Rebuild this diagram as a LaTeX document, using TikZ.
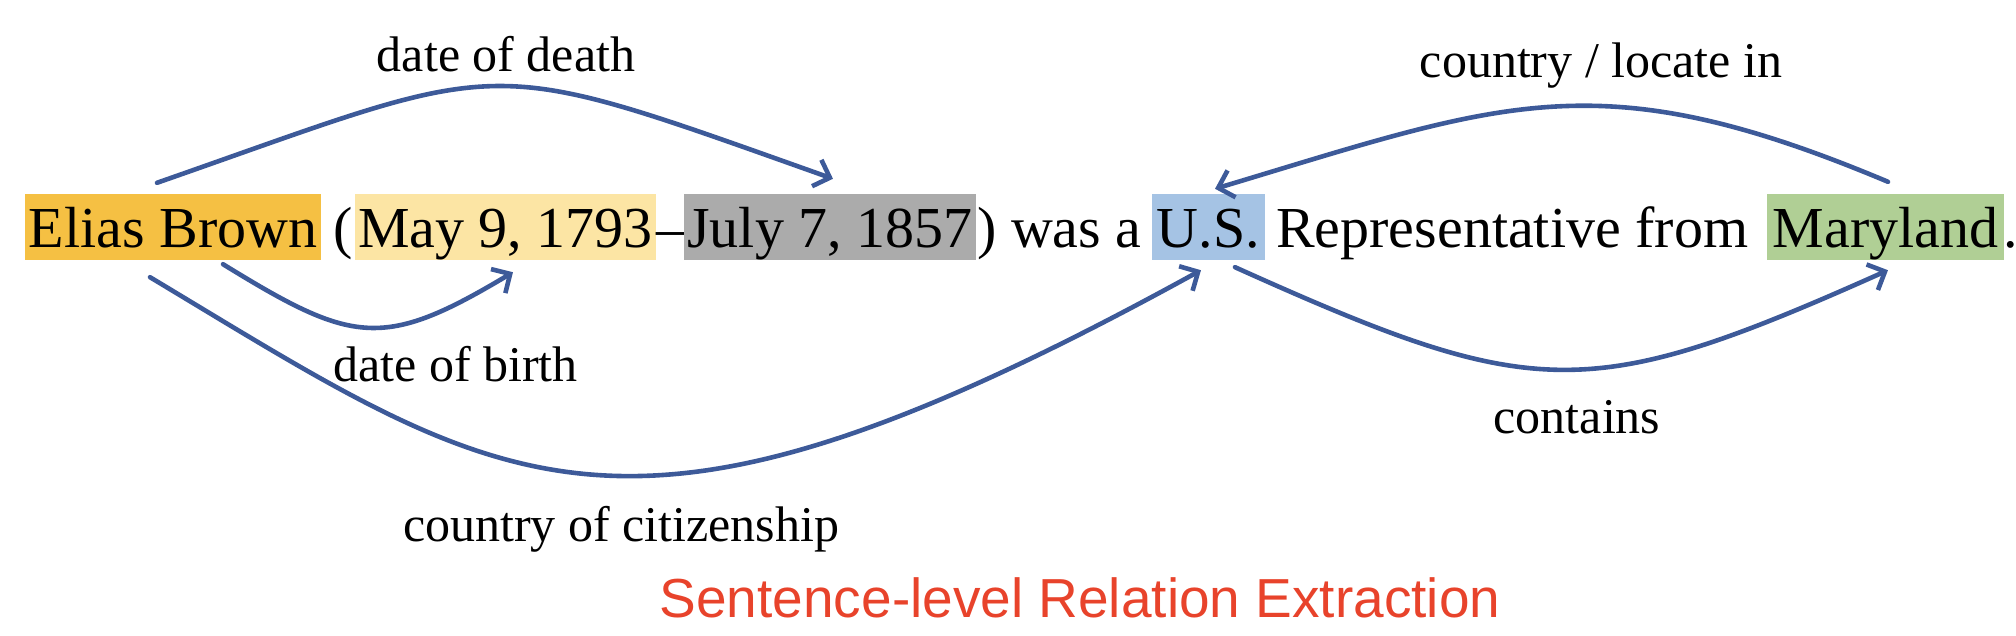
\documentclass[tikz,border=0pt]{standalone}
\usepackage{fontspec}
\setmainfont{Liberation Serif}
\newfontfamily\titlefont{Liberation Sans}
\usetikzlibrary{arrows.meta,calc}
\definecolor{hlorange}{HTML}{F5C043}
\definecolor{hlyellow}{HTML}{FCE5A4}
\definecolor{hlgray}{HTML}{ABABAB}
\definecolor{hlblue}{HTML}{A5C3E4}
\definecolor{hlgreen}{HTML}{B0CF95}
\definecolor{relblue}{HTML}{3D5A99}
\definecolor{titlered}{HTML}{E8432B}
\tikzset{
  hl/.style={inner sep=0pt, text height=54bp, text depth=12bp, anchor=base,
    font=\fontsize{58bp}{60bp}\selectfont},
  plain/.style={inner sep=0pt, anchor=base west, font=\fontsize{58bp}{60bp}\selectfont},
  lbl/.style={inner sep=0pt, anchor=base, font=\fontsize{50bp}{52bp}\selectfont},
  rel/.style={draw=relblue, line width=4.6bp, line cap=round,
    -{Straight Barb[length=14bp,width=28bp,line width=4.6bp]}},
}
\begin{document}
\begin{tikzpicture}[x=1bp,y=-1bp]
\useasboundingbox (0,0) rectangle (2016,636);
% sentence
\node[hl, fill=hlorange, minimum width=296bp] (eb) at (173,248) {Elias Brown};
\node[plain] (p1) at (333,248) {(};
\node[hl, fill=hlyellow, minimum width=301bp] (may) at (505.5,248) {May 9, 1793};
\node[plain] (p2) at (656,248) {–};
\node[hl, fill=hlgray, minimum width=292bp] (jul) at (830,248) {July 7, 1857};
\node[plain] (p3) at (977,248) {) was a};
\node[hl, fill=hlblue, minimum width=113bp] (us) at (1208.5,248) {U.S.};
\node[plain] (p4) at (1276,248) {Representative from};
\node[hl, fill=hlgreen, minimum width=237bp] (md) at (1885.5,248) {Maryland};
\node[plain] (p5) at (2003,248) {.};
% connector end points
\coordinate (dd1) at ($(eb.north)+(-16,-11)$);
\coordinate (dd2) at ($(jul.north)+(3,-15)$);
\coordinate (db1) at ($(eb.south)+(50,4)$);
\coordinate (db2) at ($(may.south)+(7.5,12)$);
\coordinate (cc1) at ($(eb.south)+(-23,17)$);
\coordinate (cc2) at ($(us.south)+(-7.5,10)$);
\coordinate (cl1) at ($(md.north)+(2.5,-12)$);
\coordinate (cl2) at ($(us.north)+(6.5,-5)$);
\coordinate (ct1) at ($(us.south)+(26.5,7)$);
\coordinate (ct2) at ($(md.south)+(2.5,10)$);
% relations
\draw[rel] (dd1) .. controls +(358,-125) and +(-358,-127) .. (dd2);
\draw[rel] (db1) .. controls +(130,80) and +(-130,78) .. (db2);
\draw[rel] (cc1) .. controls +(360,216) and +(-580,319) .. (cc2);
\draw[rel] (cl1) .. controls +(-290,-122) and +(290,-87) .. (cl2);
\draw[rel] (ct1) .. controls +(300,135) and +(-300,134) .. (ct2);
% labels
\node[lbl] (ldd) at (506,72) {date of death};
\node[lbl] (lcl) at (1601,78) {country / locate in};
\node[lbl] (ldb) at (455.5,381) {date of birth};
\node[lbl] (lct) at (1577,433) {contains};
\node[lbl] (lcc) at (621,541) {country of citizenship};
\node[inner sep=0pt, anchor=base, text=titlered, font=\titlefont\fontsize{55bp}{57bp}\selectfont] (title) at (1080,617) {Sentence-level Relation Extraction};
\end{tikzpicture}
\end{document}
